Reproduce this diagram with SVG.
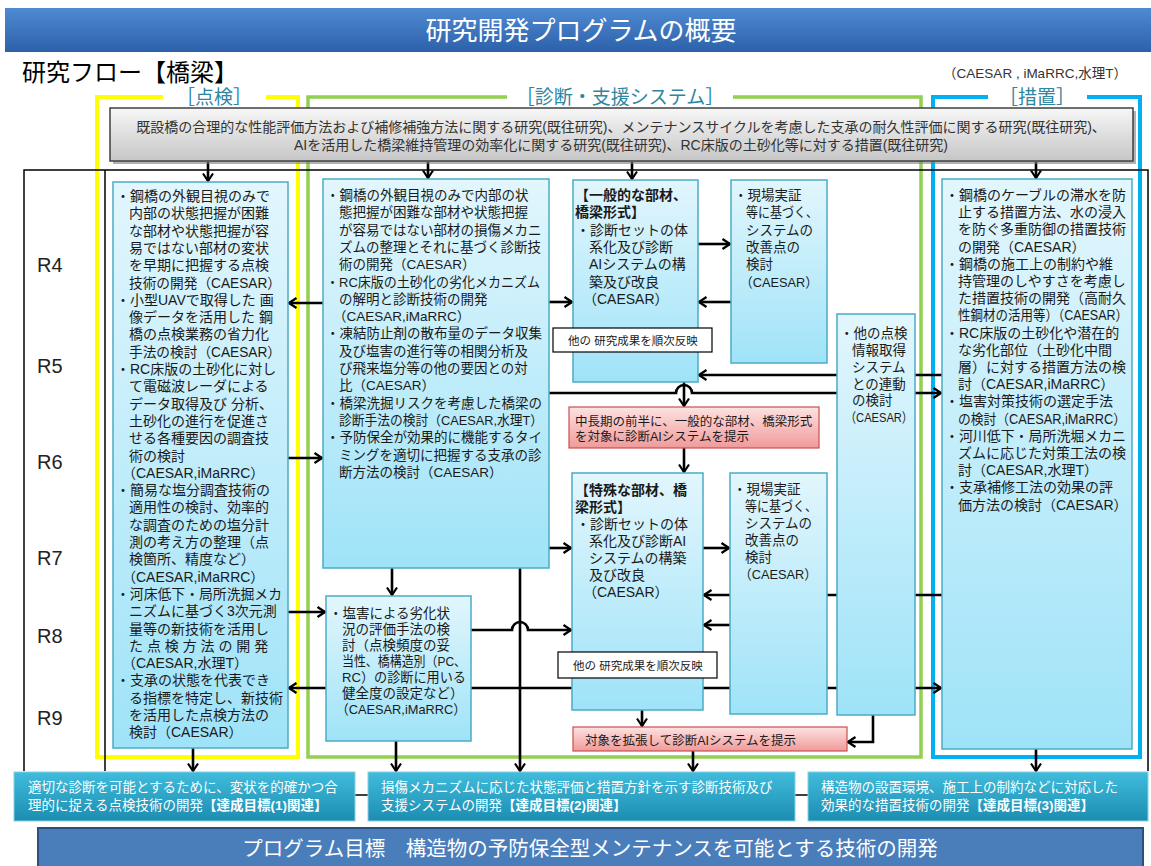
<svg xmlns="http://www.w3.org/2000/svg" width="1151" height="866" viewBox="0 0 1151 866">
<defs>
<linearGradient id="gTitle" x1="0" y1="0" x2="0" y2="1"><stop offset="0" stop-color="#4f8ad2"/><stop offset="1" stop-color="#2c61aa"/></linearGradient>
<linearGradient id="gBox" x1="0" y1="0" x2="0" y2="1"><stop offset="0" stop-color="#e2f6fd"/><stop offset="1" stop-color="#9fe3f8"/></linearGradient>
<linearGradient id="gRed" x1="0" y1="0" x2="0" y2="1"><stop offset="0" stop-color="#fde2e2"/><stop offset="1" stop-color="#f09a9a"/></linearGradient>
<linearGradient id="gTeal" x1="0" y1="0" x2="0" y2="1"><stop offset="0" stop-color="#40bcdc"/><stop offset="1" stop-color="#1c8db2"/></linearGradient>
<linearGradient id="gGray" x1="0" y1="0" x2="0" y2="1"><stop offset="0" stop-color="#f7f7f7"/><stop offset="1" stop-color="#c6c6c6"/></linearGradient>
<marker id="ah" viewBox="0 0 10 12" refX="9" refY="6" markerWidth="10" markerHeight="12" markerUnits="userSpaceOnUse" orient="auto"><path d="M1.5,1 L9,6 L1.5,11" fill="none" stroke="#000" stroke-width="2.2"/></marker>
<style>
.ln{fill:none;stroke:#000;stroke-width:2.6}
.ar{marker-end:url(#ah)}
.fr{fill:none;stroke:#000;stroke-width:1.5}
.bx{fill:url(#gBox);stroke:#4bacc6;stroke-width:1.5}
.rd{fill:url(#gRed);stroke:#c9504d;stroke-width:1.2}
.tl{fill:url(#gTeal);stroke:#86d0e4;stroke-width:1}
.wb{fill:#fff;stroke:#000;stroke-width:1.2}
text{font-family:"Liberation Sans","Noto Sans CJK JP","Noto Sans CJK SC",sans-serif}
.t{fill:#1a1a1a}
.s14{font-size:14px}
.s135{font-size:13.5px}
.s125{font-size:12.5px}
.s115{font-size:11.5px}
.b{font-weight:bold}
.w{fill:#fff}
.br{font-size:19px;fill:#2e86a0;text-anchor:middle}
.rl{font-size:20px;fill:#222}
</style>
</defs>

<g id="title">
<rect x="5" y="8" width="1146" height="44" fill="url(#gTitle)"/>
<text x="581" y="40" font-size="26" fill="#fff" text-anchor="middle">研究開発プログラムの概要</text>
</g>
<text x="22" y="81" font-size="24" fill="#000">研究フロー【橋梁】</text>
<text x="1035" y="78" font-size="13.5" fill="#333" text-anchor="middle">（CAESAR , iMaRRC,水理T）</text>

<g id="frames">
<path d="M163,97 H97 V757 H298 V97 H266" fill="none" stroke="#ffff00" stroke-width="4"/>
<text class="br" x="214" y="104">［点検］</text>
<path d="M507,97 H308 V757 H921 V97 H733" fill="none" stroke="#92d050" stroke-width="3.5"/>
<text class="br" x="620" y="104">［診断・支援システム］</text>
<path d="M988,97 H933 V757 H1140 V97 H1087" fill="none" stroke="#00b0f0" stroke-width="4"/>
<text class="br" x="1037" y="104">［措置］</text>
<path class="fr" d="M24,771 V170 H1148 V771"/>
<path class="fr" d="M105,170 V771"/>
</g>

<g id="years">
<text class="rl" x="37" y="272">R4</text>
<text class="rl" x="37" y="373">R5</text>
<text class="rl" x="37" y="469">R6</text>
<text class="rl" x="37" y="565">R7</text>
<text class="rl" x="37" y="643">R8</text>
<text class="rl" x="37" y="725">R9</text>
</g>

<g id="connectors">
<path class="ln ar" d="M208,162 V181"/>
<path class="ln ar" d="M428,162 V178"/>
<path class="ln ar" d="M632,162 V179"/>
<path class="ln ar" d="M1036,162 V178"/>
<path class="ln ar" d="M323,303 H289"/>
<path class="ln ar" d="M288,458 H322"/>
<path class="ln ar" d="M288,612 H325"/>
<path class="ln ar" d="M326,688 H289"/>
<path class="ln ar" d="M471,688 H941"/>
<path class="ln ar" d="M549,302 H572"/>
<path class="ln ar" d="M698,244 H730"/>
<path class="ln ar" d="M731,302 H699"/>
<path class="ln ar" d="M942,375 H699"/>
<path class="ln ar" d="M549,393 H676 A8,8 0 0 1 692,393 H941"/>
<path class="ln ar" d="M684,382 V406"/>
<path class="ln ar" d="M684,448 V472"/>
<path class="ln ar" d="M549,548 H571"/>
<path class="ln ar" d="M703,548 H729"/>
<path class="ln ar" d="M942,595 H704"/>
<path class="ln ar" d="M730,625 H704"/>
<path class="ln ar" d="M471,630 H512 A8,8 0 0 1 528,630 H571"/>
<path class="ln ar" d="M520,568 V771"/>
<path class="ln ar" d="M392,568 V595"/>
<path class="ln ar" d="M396,741 V771"/>
<path class="ln ar" d="M193,748 V771"/>
<path class="ln ar" d="M642,710 V726"/>
<path class="ln ar" d="M873,715 V742 H848"/>
<path class="ln ar" d="M693,751 V771"/>
<path class="ln ar" d="M1036,749 V771"/>
<path d="M355,795 H368 M795,795 H808" fill="none" stroke="#000" stroke-width="1.5"/>
</g>

<g id="previous-research">
<rect x="113" y="111" width="1023" height="53" fill="#7f7f7f" opacity="0.6"/>
<rect x="110" y="108" width="1023" height="53" fill="url(#gGray)" stroke="#404040" stroke-width="1.5"/>
<text font-size="14" fill="#333" text-anchor="middle"><tspan x="621" y="132">既設橋の合理的な性能評価方法および補修補強方法に関する研究(既往研究)、メンテナンスサイクルを考慮した支承の耐久性評価に関する研究(既往研究)、</tspan><tspan x="621" y="150">AIを活用した橋梁維持管理の効率化に関する研究(既往研究)、RC床版の土砂化等に対する措置(既往研究)</tspan></text>
</g>

<g id="inspection">
<rect class="bx" x="113" y="182" width="175" height="566"/>
<text class="t s14"><tspan x="116" y="201">・鋼橋の外観目視のみで</tspan><tspan x="129" y="218.3">内部の状態把握が困難</tspan><tspan x="129" y="235.6">な部材や状態把握が容</tspan><tspan x="129" y="252.9">易ではない部材の変状</tspan><tspan x="129" y="270.2">を早期に把握する点検</tspan><tspan x="129" y="287.5" textLength="152" lengthAdjust="spacingAndGlyphs">技術の開発（CAESAR）</tspan><tspan x="116" y="304.8">・小型UAVで取得した 画</tspan><tspan x="129" y="322.1">像データを活用した 鋼</tspan><tspan x="129" y="339.4">橋の点検業務の省力化</tspan><tspan x="129" y="356.7" textLength="152" lengthAdjust="spacingAndGlyphs">手法の検討（CAESAR）</tspan><tspan x="116" y="374">・RC床版の土砂化に対し</tspan><tspan x="129" y="391.3">て電磁波レーダによる</tspan><tspan x="129" y="408.6">データ取得及び 分析、</tspan><tspan x="129" y="425.9">土砂化の進行を促進さ</tspan><tspan x="129" y="443.2">せる各種要因の調査技</tspan><tspan x="129" y="460.5">術の検討</tspan><tspan x="122" y="477.8">（CAESAR,iMaRRC）</tspan><tspan x="116" y="495.1">・簡易な塩分調査技術の</tspan><tspan x="129" y="512.4">適用性の検討、効率的</tspan><tspan x="129" y="529.7">な調査のための塩分計</tspan><tspan x="129" y="547">測の考え方の整理（点</tspan><tspan x="129" y="564.3">検箇所、精度など）</tspan><tspan x="122" y="581.6">（CAESAR,iMaRRC）</tspan><tspan x="116" y="598.9" textLength="166" lengthAdjust="spacingAndGlyphs">・河床低下・局所洗掘メカ</tspan><tspan x="129" y="616.2">ニズムに基づく3次元測</tspan><tspan x="129" y="633.5">量等の新技術を活用し</tspan><tspan x="129" y="650.8">た 点 検 方 法 の 開 発</tspan><tspan x="122" y="668.1">（CAESAR,水理T）</tspan><tspan x="116" y="685.4">・支承の状態を代表でき</tspan><tspan x="129" y="702.7">る指標を特定し、新技術</tspan><tspan x="129" y="720">を活用した点検方法の</tspan><tspan x="129" y="737.3">検討（CAESAR）</tspan></text>
</g>

<g id="diagnosis">
<rect class="bx" x="323" y="179" width="226" height="389"/>
<text class="t s135"><tspan x="326" y="200">・鋼橋の外観目視のみで内部の状</tspan><tspan x="339" y="217.3">態把握が困難な部材や状態把握</tspan><tspan x="339" y="234.6">が容易ではない部材の損傷メカニ</tspan><tspan x="339" y="251.9">ズムの整理とそれに基づく診断技</tspan><tspan x="339" y="269.2">術の開発（CAESAR）</tspan><tspan x="326" y="286.5" textLength="214" lengthAdjust="spacingAndGlyphs">・RC床版の土砂化の劣化メカニズム</tspan><tspan x="339" y="303.8">の解明と診断技術の開発</tspan><tspan x="333" y="321.1">（CAESAR,iMaRRC）</tspan><tspan x="326" y="338.4">・凍結防止剤の散布量のデータ収集</tspan><tspan x="339" y="355.7">及び塩害の進行等の相関分析及</tspan><tspan x="339" y="373">び飛来塩分等の他の要因との対</tspan><tspan x="339" y="390.3">比（CAESAR）</tspan><tspan x="326" y="407.6">・橋梁洗掘リスクを考慮した橋梁の</tspan><tspan x="339" y="424.9" textLength="204" lengthAdjust="spacingAndGlyphs">診断手法の検討（CAESAR,水理T）</tspan><tspan x="326" y="442.2">・予防保全が効果的に機能するタイ</tspan><tspan x="339" y="459.5">ミングを適切に把握する支承の診</tspan><tspan x="339" y="476.8">断方法の検討（CAESAR）</tspan></text>
</g>

<g id="salt-damage">
<rect class="bx" x="326" y="596" width="145" height="145"/>
<text class="t s135"><tspan x="329" y="618">・塩害による劣化状</tspan><tspan x="342" y="634">況の評価手法の検</tspan><tspan x="342" y="650">討（点検頻度の妥</tspan><tspan x="342" y="666" textLength="124" lengthAdjust="spacingAndGlyphs">当性、橋構造別（PC、</tspan><tspan x="342" y="682" textLength="124" lengthAdjust="spacingAndGlyphs">RC）の診断に用いる</tspan><tspan x="342" y="698">健全度の設定など）</tspan><tspan x="336" y="714" textLength="130" lengthAdjust="spacingAndGlyphs">（CAESAR,iMaRRC）</tspan></text>
</g>

<g id="general">
<rect class="bx" x="573" y="180" width="125" height="202"/>
<text class="t s14"><tspan class="b" x="575" y="200">【一般的な部材、</tspan><tspan class="b" x="575" y="217.3">橋梁形式】</tspan><tspan x="576" y="234.6">・診断セットの体</tspan><tspan x="589" y="251.9">系化及び診断</tspan><tspan x="589" y="269.2">AIシステムの構</tspan><tspan x="589" y="286.5">築及び改良</tspan><tspan x="583" y="303.8">（CAESAR）</tspan></text>
</g>

<g id="field1">
<rect class="bx" x="731" y="180" width="96" height="183"/>
<text class="t s135"><tspan x="734" y="200">・現場実証</tspan><tspan x="746" y="217.3" textLength="72" lengthAdjust="spacingAndGlyphs">等に基づく、</tspan><tspan x="746" y="234.6">システムの</tspan><tspan x="746" y="251.9">改善点の</tspan><tspan x="746" y="269.2">検討</tspan><tspan x="740" y="286.5" textLength="78" lengthAdjust="spacingAndGlyphs">（CAESAR）</tspan></text>
</g>

<g id="other-link">
<rect class="bx" x="837" y="314" width="78" height="401"/>
<text class="t s135"><tspan x="840" y="338">・他の点検</tspan><tspan x="852" y="355">情報取得</tspan><tspan x="852" y="372">システム</tspan><tspan x="852" y="388.5">との連動</tspan><tspan x="852" y="405">の検討</tspan><tspan x="845" y="422" textLength="68" lengthAdjust="spacingAndGlyphs">（CAESAR）</tspan></text>
</g>

<g id="reflect1">
<rect class="wb" x="553" y="328" width="159" height="24"/>
<text class="t s115" x="568" y="344.5">他の 研究成果を順次反映</text>
</g>

<g id="present1">
<rect class="rd" x="569" y="407" width="250" height="41"/>
<text class="t s125"><tspan x="575" y="426">中長期の前半に、一般的な部材、橋梁形式</tspan><tspan x="575" y="441">を対象に診断AIシステムを提示</tspan></text>
</g>

<g id="special">
<rect class="bx" x="572" y="473" width="131" height="237"/>
<text class="t s14"><tspan class="b" x="575" y="495">【特殊な部材、橋</tspan><tspan class="b" x="575" y="512">梁形式】</tspan><tspan x="576" y="529">・診断セットの体</tspan><tspan x="589" y="546">系化及び診断AI</tspan><tspan x="589" y="563">システムの構築</tspan><tspan x="589" y="580">及び改良</tspan><tspan x="583" y="597">（CAESAR）</tspan></text>
</g>

<g id="field2">
<rect class="bx" x="730" y="473" width="97" height="241"/>
<text class="t s135"><tspan x="733" y="494">・現場実証</tspan><tspan x="745" y="511" textLength="72" lengthAdjust="spacingAndGlyphs">等に基づく、</tspan><tspan x="745" y="528">システムの</tspan><tspan x="745" y="545">改善点の</tspan><tspan x="745" y="562">検討</tspan><tspan x="739" y="579" textLength="78" lengthAdjust="spacingAndGlyphs">（CAESAR）</tspan></text>
</g>

<g id="reflect2">
<rect class="wb" x="558" y="652" width="159" height="26"/>
<text class="t s115" x="573" y="669.5">他の 研究成果を順次反映</text>
</g>

<g id="present2">
<rect class="rd" x="573" y="727" width="274" height="24"/>
<text class="t s125" x="585" y="744.5">対象を拡張して診断AIシステムを提示</text>
</g>

<g id="measures">
<rect class="bx" x="942" y="179" width="190" height="570"/>
<text class="t s14"><tspan x="945" y="200" textLength="181" lengthAdjust="spacingAndGlyphs">・鋼橋のケーブルの滞水を防</tspan><tspan x="958" y="217.2">止する措置方法、水の浸入</tspan><tspan x="958" y="234.4">を防ぐ多重防御の措置技術</tspan><tspan x="958" y="251.6">の開発（CAESAR）</tspan><tspan x="945" y="268.8">・鋼橋の施工上の制約や維</tspan><tspan x="958" y="286">持管理のしやすさを考慮し</tspan><tspan x="958" y="303.2">た措置技術の開発（高耐久</tspan><tspan x="958" y="320.4" textLength="170" lengthAdjust="spacingAndGlyphs">性鋼材の活用等）（CAESAR）</tspan><tspan x="945" y="337.6">・RC床版の土砂化や潜在的</tspan><tspan x="958" y="354.8">な劣化部位（土砂化中間</tspan><tspan x="958" y="372">層）に対する措置方法の検</tspan><tspan x="958" y="389.2">討（CAESAR,iMaRRC）</tspan><tspan x="945" y="406.4">・塩害対策技術の選定手法</tspan><tspan x="958" y="423.6" textLength="168" lengthAdjust="spacingAndGlyphs">の検討（CAESAR,iMaRRC）</tspan><tspan x="945" y="440.8" textLength="181" lengthAdjust="spacingAndGlyphs">・河川低下・局所洗堀メカニ</tspan><tspan x="958" y="458">ズムに応じた対策工法の検</tspan><tspan x="958" y="475.2">討（CAESAR,水理T）</tspan><tspan x="945" y="492.4">・支承補修工法の効果の評</tspan><tspan x="958" y="509.6">価方法の検討（CAESAR）</tspan></text>
</g>

<g id="goal1">
<rect class="tl" x="14" y="772" width="341" height="49"/>
<text class="w s135"><tspan x="28" y="792">適切な診断を可能とするために、変状を的確かつ合</tspan><tspan x="28" y="810">理的に捉える点検技術の開発</tspan><tspan class="b">【達成目標(1)関連】</tspan></text>
</g>
<g id="goal2">
<rect class="tl" x="368" y="772" width="427" height="49"/>
<text class="w s135"><tspan x="381" y="792">損傷メカニズムに応じた状態評価と措置方針を示す診断技術及び</tspan><tspan x="381" y="810">支援システムの開発</tspan><tspan class="b">【達成目標(2)関連】</tspan></text>
</g>
<g id="goal3">
<rect class="tl" x="808" y="772" width="340" height="49"/>
<text class="w s135"><tspan x="821" y="792">構造物の設置環境、施工上の制約などに対応した</tspan><tspan x="821" y="810">効果的な措置技術の開発</tspan><tspan class="b">【達成目標(3)関連】</tspan></text>
</g>

<g id="program-goal">
<rect x="38" y="828" width="1105" height="40" fill="#4a7ebb" stroke="#2d4f80" stroke-width="2"/>
<text x="590" y="856" font-size="20.5" fill="#fff" text-anchor="middle">プログラム目標　構造物の予防保全型メンテナンスを可能とする技術の開発</text>
</g>
</svg>
